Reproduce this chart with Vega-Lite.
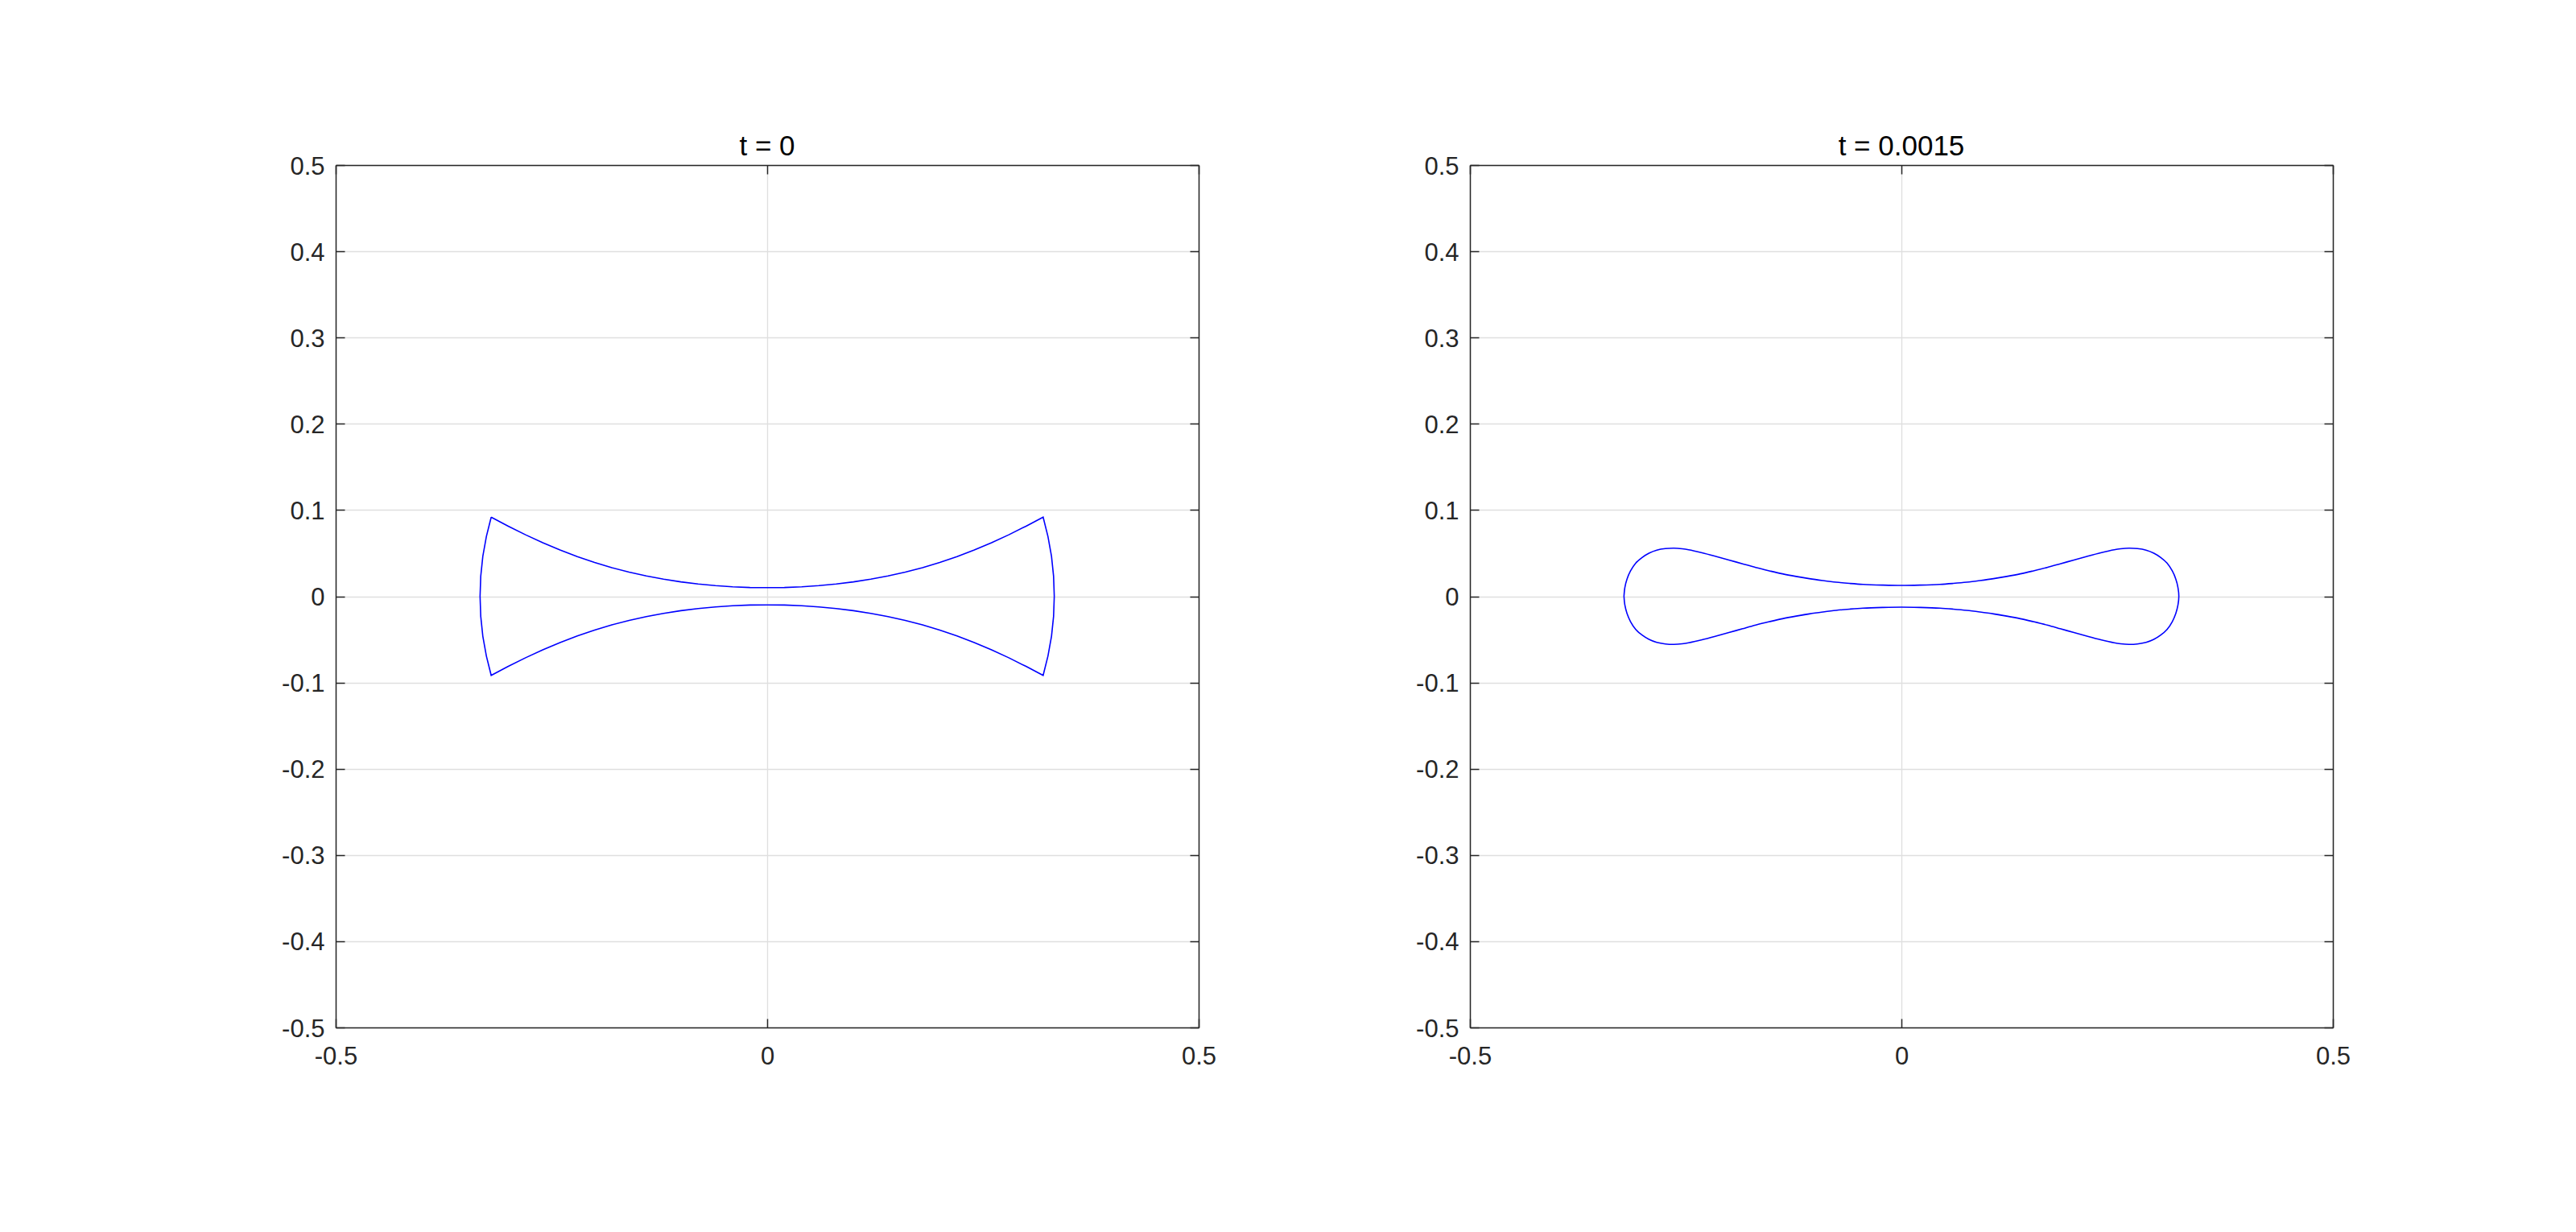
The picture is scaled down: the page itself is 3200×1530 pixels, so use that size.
{
  "$schema": "https://vega.github.io/schema/vega-lite/v6.json",
  "padding": {"left": 349, "top": 165, "right": 10, "bottom": 10},
  "bounds": "flush",
  "spacing": 337,
  "background": "white",
  "config": {
    "view": {"stroke": null},
    "font": "Liberation Sans",
    "axis": {
      "labelFont": "Liberation Sans",
      "labelFontSize": 31,
      "labelColor": "#262626",
      "domainColor": "#262626",
      "domainWidth": 1.5,
      "tickColor": "#262626",
      "tickWidth": 1.5,
      "tickSize": -11,
      "gridColor": "#dfdfdf",
      "gridWidth": 1.3,
      "labelFlush": false,
      "labelOverlap": false
    },
    "title": {"font": "Liberation Sans", "fontSize": 35, "fontWeight": "normal", "color": "#000000", "anchor": "middle", "frame": "group", "offset": -9}
  },
  "datasets": {
    "s0": [
      {"i":0,"x":-0.3198,"y":0.0917},{"i":1,"x":-0.30,"y":0.0813},{"i":2,"x":-0.28,"y":0.0713},{"i":3,"x":-0.26,"y":0.0621},{"i":4,"x":-0.24,"y":0.0537},{"i":5,"x":-0.22,"y":0.0460},{"i":6,"x":-0.20,"y":0.0393},{"i":7,"x":-0.18,"y":0.0332},{"i":8,"x":-0.16,"y":0.0280},{"i":9,"x":-0.14,"y":0.0236},{"i":10,"x":-0.12,"y":0.0198},{"i":11,"x":-0.10,"y":0.0167},{"i":12,"x":-0.08,"y":0.0142},{"i":13,"x":-0.06,"y":0.0123},{"i":14,"x":-0.04,"y":0.0110},{"i":15,"x":-0.02,"y":0.0102},{"i":16,"x":0,"y":0.0100},{"i":17,"x":0.02,"y":0.0102},{"i":18,"x":0.04,"y":0.0110},{"i":19,"x":0.06,"y":0.0123},{"i":20,"x":0.08,"y":0.0142},{"i":21,"x":0.10,"y":0.0167},{"i":22,"x":0.12,"y":0.0198},{"i":23,"x":0.14,"y":0.0236},{"i":24,"x":0.16,"y":0.0280},{"i":25,"x":0.18,"y":0.0332},{"i":26,"x":0.20,"y":0.0393},{"i":27,"x":0.22,"y":0.0460},{"i":28,"x":0.24,"y":0.0537},{"i":29,"x":0.26,"y":0.0621},{"i":30,"x":0.28,"y":0.0713},{"i":31,"x":0.30,"y":0.0813},{"i":32,"x":0.3198,"y":0.0917},
      {"i":33,"x":0.3254,"y":0.0692},{"i":34,"x":0.3295,"y":0.0463},{"i":35,"x":0.3319,"y":0.0232},{"i":36,"x":0.3327,"y":0},{"i":37,"x":0.3319,"y":-0.0232},{"i":38,"x":0.3295,"y":-0.0463},{"i":39,"x":0.3254,"y":-0.0692},{"i":40,"x":0.3198,"y":-0.0917},
      {"i":41,"x":0.30,"y":-0.0813},{"i":42,"x":0.28,"y":-0.0713},{"i":43,"x":0.26,"y":-0.0621},{"i":44,"x":0.24,"y":-0.0537},{"i":45,"x":0.22,"y":-0.0460},{"i":46,"x":0.20,"y":-0.0393},{"i":47,"x":0.18,"y":-0.0332},{"i":48,"x":0.16,"y":-0.0280},{"i":49,"x":0.14,"y":-0.0236},{"i":50,"x":0.12,"y":-0.0198},{"i":51,"x":0.10,"y":-0.0167},{"i":52,"x":0.08,"y":-0.0142},{"i":53,"x":0.06,"y":-0.0123},{"i":54,"x":0.04,"y":-0.0110},{"i":55,"x":0.02,"y":-0.0102},{"i":56,"x":0,"y":-0.0100},{"i":57,"x":-0.02,"y":-0.0102},{"i":58,"x":-0.04,"y":-0.0110},{"i":59,"x":-0.06,"y":-0.0123},{"i":60,"x":-0.08,"y":-0.0142},{"i":61,"x":-0.10,"y":-0.0167},{"i":62,"x":-0.12,"y":-0.0198},{"i":63,"x":-0.14,"y":-0.0236},{"i":64,"x":-0.16,"y":-0.0280},{"i":65,"x":-0.18,"y":-0.0332},{"i":66,"x":-0.20,"y":-0.0393},{"i":67,"x":-0.22,"y":-0.0460},{"i":68,"x":-0.24,"y":-0.0537},{"i":69,"x":-0.26,"y":-0.0621},{"i":70,"x":-0.28,"y":-0.0713},{"i":71,"x":-0.30,"y":-0.0813},{"i":72,"x":-0.3198,"y":-0.0917},
      {"i":73,"x":-0.3254,"y":-0.0692},{"i":74,"x":-0.3295,"y":-0.0463},{"i":75,"x":-0.3319,"y":-0.0232},{"i":76,"x":-0.3327,"y":0},{"i":77,"x":-0.3319,"y":0.0232},{"i":78,"x":-0.3295,"y":0.0463},{"i":79,"x":-0.3254,"y":0.0692},{"i":80,"x":-0.3198,"y":0.0917}
    ],
    "s1": [
      {"i":0,"x":-0.3215,"y":0},{"i":1,"x":-0.3205,"y":0.0100},{"i":2,"x":-0.3180,"y":0.0198},{"i":3,"x":-0.3140,"y":0.0292},{"i":4,"x":-0.3078,"y":0.0385},{"i":5,"x":-0.3005,"y":0.0450},{"i":6,"x":-0.2925,"y":0.0500},{"i":7,"x":-0.2835,"y":0.0535},{"i":8,"x":-0.2735,"y":0.0553},{"i":9,"x":-0.2635,"y":0.0558},{"i":10,"x":-0.2540,"y":0.0551},{"i":11,"x":-0.2466,"y":0.0540},{"i":12,"x":-0.2310,"y":0.0505},{"i":13,"x":-0.2150,"y":0.0463},{"i":14,"x":-0.1999,"y":0.0421},{"i":15,"x":-0.1840,"y":0.0376},{"i":16,"x":-0.1688,"y":0.0334},{"i":17,"x":-0.1530,"y":0.0295},{"i":18,"x":-0.1378,"y":0.0260},{"i":19,"x":-0.1220,"y":0.0230},{"i":20,"x":-0.1067,"y":0.0204},{"i":21,"x":-0.0910,"y":0.0182},{"i":22,"x":-0.0756,"y":0.0163},{"i":23,"x":-0.0600,"y":0.0149},{"i":24,"x":-0.0445,"y":0.0138},{"i":25,"x":-0.0220,"y":0.0130},{"i":26,"x":0,"y":0.0126},
      {"i":27,"x":0.0220,"y":0.0130},{"i":28,"x":0.0445,"y":0.0138},{"i":29,"x":0.0600,"y":0.0149},{"i":30,"x":0.0756,"y":0.0163},{"i":31,"x":0.0910,"y":0.0182},{"i":32,"x":0.1067,"y":0.0204},{"i":33,"x":0.1220,"y":0.0230},{"i":34,"x":0.1378,"y":0.0260},{"i":35,"x":0.1530,"y":0.0295},{"i":36,"x":0.1688,"y":0.0334},{"i":37,"x":0.1840,"y":0.0376},{"i":38,"x":0.1999,"y":0.0421},{"i":39,"x":0.2150,"y":0.0463},{"i":40,"x":0.2310,"y":0.0505},{"i":41,"x":0.2466,"y":0.0540},{"i":42,"x":0.2540,"y":0.0551},{"i":43,"x":0.2635,"y":0.0558},{"i":44,"x":0.2735,"y":0.0553},{"i":45,"x":0.2835,"y":0.0535},{"i":46,"x":0.2925,"y":0.0500},{"i":47,"x":0.3005,"y":0.0450},{"i":48,"x":0.3078,"y":0.0385},{"i":49,"x":0.3140,"y":0.0292},{"i":50,"x":0.3180,"y":0.0198},{"i":51,"x":0.3205,"y":0.0100},{"i":52,"x":0.3215,"y":0},
      {"i":53,"x":0.3205,"y":-0.0100},{"i":54,"x":0.3180,"y":-0.0198},{"i":55,"x":0.3140,"y":-0.0292},{"i":56,"x":0.3078,"y":-0.0385},{"i":57,"x":0.3005,"y":-0.0450},{"i":58,"x":0.2925,"y":-0.0500},{"i":59,"x":0.2835,"y":-0.0535},{"i":60,"x":0.2735,"y":-0.0553},{"i":61,"x":0.2635,"y":-0.0558},{"i":62,"x":0.2540,"y":-0.0551},{"i":63,"x":0.2466,"y":-0.0540},{"i":64,"x":0.2310,"y":-0.0505},{"i":65,"x":0.2150,"y":-0.0463},{"i":66,"x":0.1999,"y":-0.0421},{"i":67,"x":0.1840,"y":-0.0376},{"i":68,"x":0.1688,"y":-0.0334},{"i":69,"x":0.1530,"y":-0.0295},{"i":70,"x":0.1378,"y":-0.0260},{"i":71,"x":0.1220,"y":-0.0230},{"i":72,"x":0.1067,"y":-0.0204},{"i":73,"x":0.0910,"y":-0.0182},{"i":74,"x":0.0756,"y":-0.0163},{"i":75,"x":0.0600,"y":-0.0149},{"i":76,"x":0.0445,"y":-0.0138},{"i":77,"x":0.0220,"y":-0.0130},{"i":78,"x":0,"y":-0.0126},
      {"i":79,"x":-0.0220,"y":-0.0130},{"i":80,"x":-0.0445,"y":-0.0138},{"i":81,"x":-0.0600,"y":-0.0149},{"i":82,"x":-0.0756,"y":-0.0163},{"i":83,"x":-0.0910,"y":-0.0182},{"i":84,"x":-0.1067,"y":-0.0204},{"i":85,"x":-0.1220,"y":-0.0230},{"i":86,"x":-0.1378,"y":-0.0260},{"i":87,"x":-0.1530,"y":-0.0295},{"i":88,"x":-0.1688,"y":-0.0334},{"i":89,"x":-0.1840,"y":-0.0376},{"i":90,"x":-0.1999,"y":-0.0421},{"i":91,"x":-0.2150,"y":-0.0463},{"i":92,"x":-0.2310,"y":-0.0505},{"i":93,"x":-0.2466,"y":-0.0540},{"i":94,"x":-0.2540,"y":-0.0551},{"i":95,"x":-0.2635,"y":-0.0558},{"i":96,"x":-0.2735,"y":-0.0553},{"i":97,"x":-0.2835,"y":-0.0535},{"i":98,"x":-0.2925,"y":-0.0500},{"i":99,"x":-0.3005,"y":-0.0450},{"i":100,"x":-0.3078,"y":-0.0385},{"i":101,"x":-0.3140,"y":-0.0292},{"i":102,"x":-0.3180,"y":-0.0198},{"i":103,"x":-0.3205,"y":-0.0100},{"i":104,"x":-0.3215,"y":0}
    ]
  },
  "hconcat": [
    {
      "width": 1072, "height": 1071,
      "title": {"text": "t = 0"},
      "data": {"name": "s0"},
      "layer": [
        {
          "mark": {"type": "line", "color": "#0000ff", "strokeWidth": 1.6, "interpolate": "linear"},
          "encoding": {
            "x": {"field": "x", "type": "quantitative", "scale": {"domain": [-0.5, 0.5], "nice": false, "zero": false},
                  "axis": {"orient": "bottom", "title": null, "values": [-0.5, 0, 0.5], "grid": true, "labelPadding": 32.5,
                           "labelExpr": "(datum.value < 0 ? '-' : '') + format(abs(datum.value), '~g')"}},
            "y": {"field": "y", "type": "quantitative", "scale": {"domain": [-0.5, 0.5], "nice": false, "zero": false},
                  "axis": {"orient": "left", "title": null, "values": [-0.5, -0.4, -0.3, -0.2, -0.1, 0, 0.1, 0.2, 0.3, 0.4, 0.5], "grid": true, "labelPadding": 25, "labelOffset": 2,
                           "labelExpr": "(datum.value < 0 ? '-' : '') + format(abs(datum.value), '~g')"}},
            "order": {"field": "i", "type": "quantitative"}
          }
        },
        {
          "mark": {"type": "line", "opacity": 0},
          "encoding": {
            "x": {"field": "x", "type": "quantitative", "axis": {"orient": "top", "title": null, "labels": false, "grid": false, "values": [-0.5, 0, 0.5], "zindex": 1}},
            "y": {"field": "y", "type": "quantitative", "axis": {"orient": "right", "title": null, "labels": false, "grid": false, "values": [-0.5, -0.4, -0.3, -0.2, -0.1, 0, 0.1, 0.2, 0.3, 0.4, 0.5], "zindex": 1}},
            "order": {"field": "i", "type": "quantitative"}
          }
        }
      ],
      "resolve": {"axis": {"x": "independent", "y": "independent"}}
    },
    {
      "width": 1072, "height": 1071,
      "title": {"text": "t = 0.0015"},
      "data": {"name": "s1"},
      "layer": [
        {
          "mark": {"type": "line", "color": "#0000ff", "strokeWidth": 1.6, "interpolate": "catmull-rom"},
          "encoding": {
            "x": {"field": "x", "type": "quantitative", "scale": {"domain": [-0.5, 0.5], "nice": false, "zero": false},
                  "axis": {"orient": "bottom", "title": null, "values": [-0.5, 0, 0.5], "grid": true, "labelPadding": 32.5,
                           "labelExpr": "(datum.value < 0 ? '-' : '') + format(abs(datum.value), '~g')"}},
            "y": {"field": "y", "type": "quantitative", "scale": {"domain": [-0.5, 0.5], "nice": false, "zero": false},
                  "axis": {"orient": "left", "title": null, "values": [-0.5, -0.4, -0.3, -0.2, -0.1, 0, 0.1, 0.2, 0.3, 0.4, 0.5], "grid": true, "labelPadding": 25, "labelOffset": 2,
                           "labelExpr": "(datum.value < 0 ? '-' : '') + format(abs(datum.value), '~g')"}},
            "order": {"field": "i", "type": "quantitative"}
          }
        },
        {
          "mark": {"type": "line", "opacity": 0},
          "encoding": {
            "x": {"field": "x", "type": "quantitative", "axis": {"orient": "top", "title": null, "labels": false, "grid": false, "values": [-0.5, 0, 0.5], "zindex": 1}},
            "y": {"field": "y", "type": "quantitative", "axis": {"orient": "right", "title": null, "labels": false, "grid": false, "values": [-0.5, -0.4, -0.3, -0.2, -0.1, 0, 0.1, 0.2, 0.3, 0.4, 0.5], "zindex": 1}},
            "order": {"field": "i", "type": "quantitative"}
          }
        }
      ],
      "resolve": {"axis": {"x": "independent", "y": "independent"}}
    }
  ]
}
